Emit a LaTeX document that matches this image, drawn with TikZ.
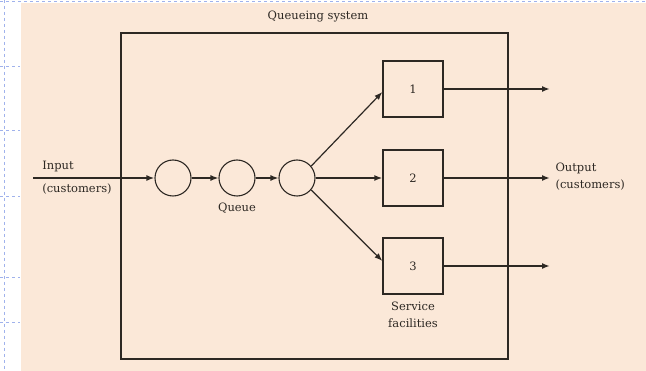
\documentclass[tikz,border=0pt]{standalone}
\usepackage{fontspec}
\setmainfont{DejaVu Serif}
\usetikzlibrary{arrows.meta}
\definecolor{paper}{RGB}{251,232,216}
\definecolor{ink}{RGB}{45,40,35}
\definecolor{margin}{RGB}{160,178,236}

\begin{document}
\begin{tikzpicture}[x=1pt,y=-1pt,
        every node/.style={font=\fontsize{11.5}{17}\selectfont,text=ink},
        waiting/.style={circle,draw=ink,line width=1.1pt,minimum size=36pt,inner sep=0pt},
        server/.style={rectangle,draw=ink,line width=1.3pt,minimum width=60pt,minimum height=56pt,inner sep=0pt},
        flow/.style={ink,line width=1.4pt,-{Latex[length=8pt,width=6pt]}}]
    \useasboundingbox (0,0) rectangle (646,371);
    % page and margin marks
    \fill[white] (0,0) rectangle (646,371);
    \fill[paper] (21,3) rectangle (646,371);
    \draw[margin,dashed] (4,0) -- (4,371);
    \draw[margin,dashed] (0,1) -- (646,1);
    \foreach \y in {66,130,196,277,322}
        \draw[margin,dashed] (0,\y) -- (20,\y);

    % the system
    \draw[ink,line width=1.3pt] (121,33) rectangle (508,359);
    \node (title) at (318,17) {Queueing system};

    \node[waiting] (q1) at (173,178) {};
    \node[waiting] (q2) at (237,178) {};
    \node[waiting] (q3) at (297,178) {};
    \node[server] (f1) at (413,89) {1};
    \node[server] (f2) at (413,178) {2};
    \node[server] (f3) at (413,266) {3};

    \coordinate (in) at (33,178);
    \coordinate (out1) at (550,89);
    \coordinate (out2) at (550,178);
    \coordinate (out3) at (550,266);

    \draw[flow,line width=1.7pt] (in) -- (q1);
    \draw[flow] (q1) -- (q2);
    \draw[flow] (q2) -- (q3);
    \draw[flow,line width=1.2pt] (q3.40) -- ([yshift=-3pt]f1.west);
    \draw[flow,line width=1.7pt] (q3) -- (f2);
    \draw[flow,line width=1.2pt] (q3.-40) -- ([yshift=5pt]f3.west);
    \foreach \k in {1,2,3}
        \draw[flow,line width=1.7pt] (f\k) -- (out\k);

    % labels
    \node (inputtxt) at (58,167) {Input};
    \node (inputcust) at (77,189) {(customers)};
    \node (outputtxt) [align=left,anchor=west] at (552,177) {Output\\(customers)};
    \node (queuetxt) at (237,208) {Queue};
    \node (servicetxt) [align=center] at (413,315) {Service\\facilities};
\end{tikzpicture}
\end{document}
